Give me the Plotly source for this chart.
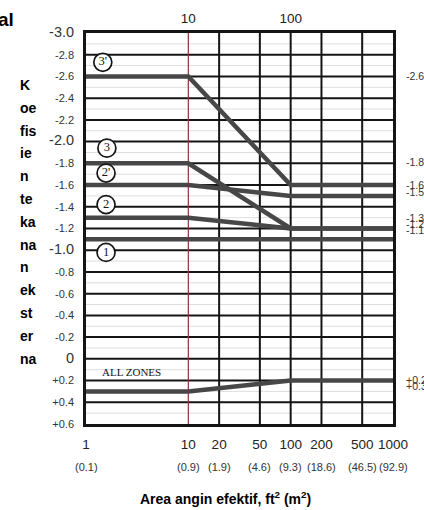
import math
import plotly.graph_objects as go

# Effective wind area (ft^2) at the break points of each curve
area_ft2 = [1, 10, 100, 1000]

# External pressure coefficient per zone
zone_3p = [-2.6, -2.6, -1.6, -1.6]
zone_3 = [-1.8, -1.8, -1.2, -1.2]
zone_2p = [-1.6, -1.6, -1.5, -1.5]
zone_2 = [-1.3, -1.3, -1.2, -1.2]
zone_1 = [-1.1, -1.1, -1.1, -1.1]
all_zones = [0.3, 0.3, 0.2, 0.2]

# Axis labels
x_ticks = [1, 10, 20, 50, 100, 200, 500, 1000]
x_metric = ["(0.1)", "(0.9)", "(1.9)", "(4.6)", "(9.3)", "(18.6)", "(46.5)", "(92.9)"]
top_ticks = [10, 100]
y_ticks = [round(-3.0 + 0.2 * i, 1) for i in range(19)]
y_minor = [round(-2.9 + 0.2 * i, 1) for i in range(18)]
y_major = [-3.0, -2.0, -1.0, 0.0]

# Values printed at the right-hand end of the curves
end_values = [-2.6, -1.8, -1.6, -1.5, -1.3, -1.2, -1.1, 0.2, 0.3]
end_texts = ["-2.6", "-1.8", "-1.6", "-1.5", "-1.3", "-1.2", "-1.1", "+0.2", "+0.3"]

# Zone markers
zone_names = ["3'", "3", "2'", "2", "1"]

SANS = "Liberation Sans, Arial, sans-serif"
SERIF = "Liberation Serif, Times New Roman, serif"
INK = "#151515"
CURVE = "#474747"


def y_label(v):
    if v == 0:
        txt = "0"
    elif v > 0:
        txt = "+%.1f" % v
    else:
        txt = "%.1f" % v
    size = 14.5 if v in y_major else 11
    return '<span style="font-size:%spx">%s</span>' % (size, txt)


fig = go.Figure()

for series in [zone_3p, zone_3, zone_2p, zone_2, zone_1, all_zones]:
    fig.add_trace(go.Scatter(
        x=area_ft2, y=series, mode="lines",
        line=dict(color=CURVE, width=4.5),
        hoverinfo="skip", showlegend=False,
    ))

# circled zone labels
marker_x = [1.46, 1.6, 1.57, 1.57, 1.57]
marker_y = [-2.73, -1.94, -1.71, -1.42, -0.98]
fig.add_trace(go.Scatter(
    x=marker_x, y=marker_y, mode="markers+text",
    text=zone_names, textposition="middle center",
    textfont=dict(family=SERIF, size=12.5, color=INK),
    marker=dict(symbol="circle", size=18, color="white",
                line=dict(color=INK, width=1.7)),
    hoverinfo="skip", showlegend=False,
))

# invisible trace to activate the top axis
fig.add_trace(go.Scatter(x=top_ticks, y=[0, 0], xaxis="x2", mode="lines",
                         line=dict(width=0), hoverinfo="skip", showlegend=False))

shapes = []
# faint intermediate horizontal rules
for yv in y_minor:
    shapes.append(dict(type="line", xref="paper", yref="y", x0=0, x1=1, y0=yv, y1=yv,
                       line=dict(color="#dedede", width=1), layer="below"))
# main horizontal rules
for yv in y_ticks[1:-1]:
    shapes.append(dict(type="line", xref="paper", yref="y", x0=0, x1=1, y0=yv, y1=yv,
                       line=dict(color=INK, width=2), layer="below"))
# vertical rules
for xv in x_ticks[1:-1]:
    if xv == 10:
        style = dict(color="#8e3434", width=1.2)
    else:
        style = dict(color=INK, width=2)
    shapes.append(dict(type="line", xref="x", yref="paper", x0=xv, x1=xv, y0=0, y1=1,
                       line=style, layer="below"))

annotations = []
# metric equivalents under the ft^2 ticks
for xv, txt in zip(x_ticks, x_metric):
    annotations.append(dict(x=math.log10(xv), xref="x", y=-0.109, yref="paper", text=txt,
                            showarrow=False, xanchor="center", yanchor="middle",
                            font=dict(family=SANS, size=11, color="#333333")))

# right-hand end values
end_shift = [0, 1, 0, 4, 0, 5, 9, 1, 5]
for v, txt, sh in zip(end_values, end_texts, end_shift):
    annotations.append(dict(x=1, xref="paper", y=v, yref="y", text=txt, yshift=sh,
                            xshift=11, showarrow=False, xanchor="left", yanchor="middle",
                            font=dict(family=SANS, size=10.5, color="#333333")))

annotations.append(dict(x=math.log10(2.8), xref="x", y=0.12, yref="y", text="ALL ZONES",
                        showarrow=False, xanchor="center", yanchor="middle",
                        font=dict(family=SERIF, size=11, color=INK)))

# x-axis title
annotations.append(dict(x=0.456, xref="paper", y=-0.189, yref="paper",
                        text="<b>Area angin efektif, ft<sup>2</sup> (m<sup>2</sup>)</b>",
                        showarrow=False, xanchor="center", yanchor="middle",
                        font=dict(family=SANS, size=14, color="#000000")))

# y-axis title, stacked syllables
title_parts = ["K", "oe", "fis", "ie", "n", "te", "ka", "na", "n", "ek", "st", "er", "na"]
for i, part in enumerate(title_parts):
    py = 424 - (85 + 22.8 * i)
    annotations.append(dict(x=(18 - 86) / 307, xref="paper", y=py / 391, yref="paper",
                            text="<b>%s</b>" % part, showarrow=False,
                            xanchor="left", yanchor="middle",
                            font=dict(family=SANS, size=14, color="#000000")))

# trailing fragment of the heading
annotations.append(dict(x=(16 - 86) / 307, xref="paper", y=(424 - 20) / 391, yref="paper",
                        text="<b>al</b>", showarrow=False, xanchor="right", yanchor="middle",
                        font=dict(family=SANS, size=19, color="#000000")))

fig.update_layout(
    width=424, height=510,
    margin=dict(l=86, r=31, t=33, b=86),
    paper_bgcolor="white", plot_bgcolor="white",
    showlegend=False,
    shapes=shapes,
    annotations=annotations,
    xaxis=dict(
        type="log", range=[0, 3],
        tickvals=x_ticks, ticktext=[str(v) for v in x_ticks],
        tickfont=dict(family=SANS, size=13.5, color="#222222"),
        ticks="", ticklabelstandoff=6,
        showgrid=False, zeroline=False,
        showline=True, linecolor=INK, linewidth=2.5, mirror=True,
    ),
    xaxis2=dict(
        type="log", range=[0, 3], overlaying="x", side="top",
        tickvals=top_ticks, ticktext=[str(v) for v in top_ticks],
        tickfont=dict(family=SANS, size=13.5, color="#222222"),
        ticks="", ticklabelstandoff=6, automargin=False,
        showgrid=False, zeroline=False, showline=False,
    ),
    yaxis=dict(
        range=[0.6, -3.0],
        tickvals=y_ticks, ticktext=[y_label(v) for v in y_ticks],
        tickfont=dict(family=SANS, size=11, color="#333333"),
        ticks="", ticklabelstandoff=7,
        showgrid=False, zeroline=False,
        showline=True, linecolor=INK, linewidth=2.5, mirror=True,
    ),
)

fig.write_html("out.html")
